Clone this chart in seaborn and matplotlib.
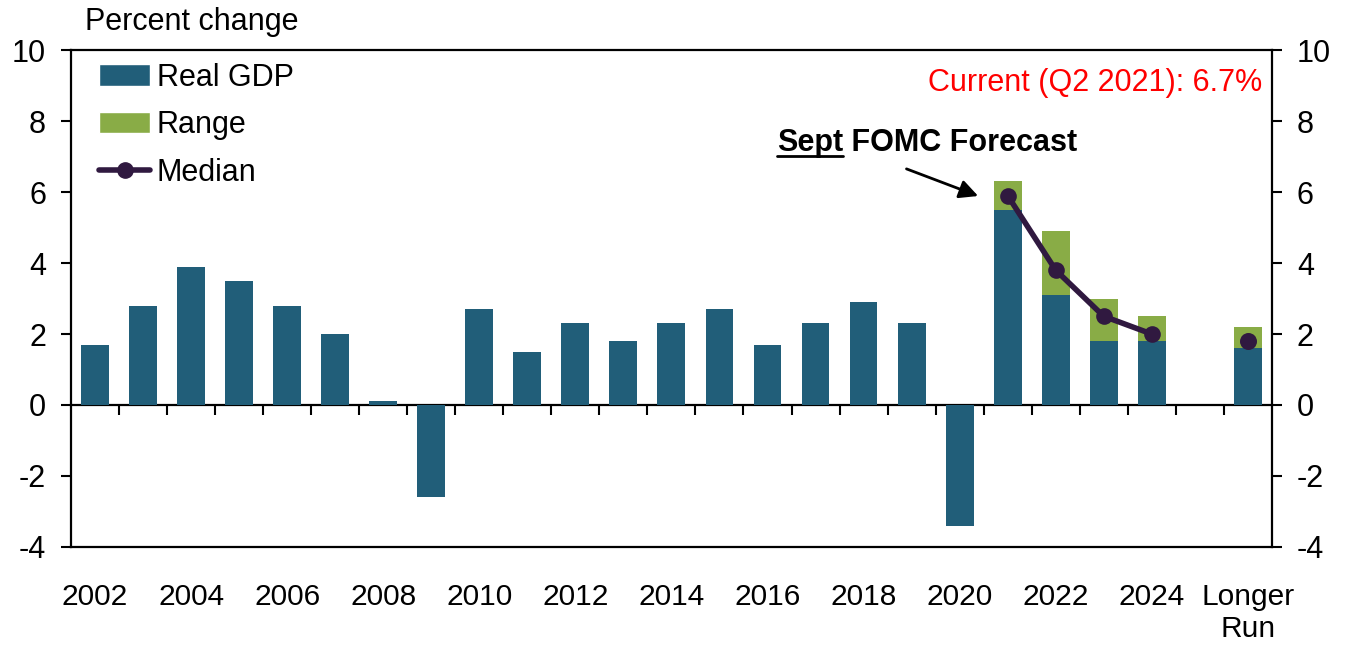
import numpy as np
import pandas as pd
import matplotlib
matplotlib.use("Agg")
import matplotlib.pyplot as plt
import seaborn as sns
from matplotlib.patches import Patch
from matplotlib.lines import Line2D

# categories: 2002-2025 (2025 slot left empty) + longer run
years = [str(y) for y in range(2002, 2026)] + ["Longer Run"]
real_gdp = [1.7, 2.8, 3.9, 3.5, 2.8, 2.0, 0.1, -2.6, 2.7, 1.5, 2.3, 1.8, 2.3,
            2.7, 1.7, 2.3, 2.9, 2.3, -3.4, 5.5, 3.1, 1.8, 1.8, np.nan, 1.6]
range_high = [np.nan] * 19 + [6.3, 4.9, 3.0, 2.5, np.nan, 2.2]
median = [np.nan] * 19 + [5.9, 3.8, 2.5, 2.0, np.nan, 1.8]
tick_labels = [y if int(y) % 2 == 0 else "" for y in years[:-1]] + ["Longer\nRun"]

BLUE = "#215E79"
GREEN = "#89AC46"
PURPLE = "#301940"

df = pd.DataFrame({"year": years, "gdp": real_gdp, "high": range_high, "median": median})
df["pos"] = np.arange(len(df))

sns.set_style("white")
plt.rcParams["font.family"] = ["Liberation Sans", "DejaVu Sans"]
plt.rcParams["axes.unicode_minus"] = False
plt.rcParams["text.color"] = "black"
plt.rcParams["xtick.color"] = "black"
plt.rcParams["ytick.color"] = "black"

fig = plt.figure(figsize=(13.53, 6.5), dpi=100)
ax = fig.add_axes([0.0525, 0.1585, 0.8875, 0.7645])

# range drawn first (full height), real GDP bars on top of it
sns.barplot(data=df, x="year", y="high", order=years, color=GREEN, width=0.58,
            saturation=1, linewidth=0, ax=ax)
sns.barplot(data=df, x="year", y="gdp", order=years, color=BLUE, width=0.58,
            saturation=1, linewidth=0, ax=ax)

line_df = df[df["median"].notna() & (df["year"] != "Longer Run")]
lr_df = df[df["year"] == "Longer Run"]
sns.lineplot(data=line_df, x="pos", y="median", color=PURPLE, lw=4,
             marker="o", markersize=12, markeredgewidth=0, ax=ax)
sns.scatterplot(data=lr_df, x="pos", y="median", color=PURPLE, s=150,
                linewidth=0, ax=ax, zorder=5)

ax.set_xlim(-0.5, len(years) - 0.5)
ax.set_ylim(-4, 10)
ax.set_yticks(range(-4, 11, 2))
ax.set_xticks(df["pos"])
ax.set_xticklabels(tick_labels)
ax.set_xlabel("")
ax.set_ylabel("")

for s in ax.spines.values():
    s.set_visible(True)
    s.set_linewidth(1.6)
    s.set_color("black")

ax.tick_params(axis="y", which="both", left=True, right=True, labelleft=True,
               labelright=True, direction="out", length=7, width=1.5,
               labelsize=22, pad=11)
ax.tick_params(axis="x", length=0, labelsize=21.5, pad=26)

# zero line with small ticks between categories
zero_ax = ax.secondary_xaxis(4 / 14)
zero_ax.set_xticks(df["pos"][:-1] + 0.5)
zero_ax.set_xticklabels([])
zero_ax.tick_params(direction="out", length=7, width=1.5, color="black")
for s in zero_ax.spines.values():
    s.set_linewidth(1.6)
    s.set_color("black")

handles = [Patch(facecolor=BLUE, label="Real GDP"),
           Patch(facecolor=GREEN, label="Range"),
           Line2D([], [], color=PURPLE, lw=4, marker="o", markersize=11,
                  label="Median")]
ax.legend(handles=handles, loc="upper left", bbox_to_anchor=(0.0, 1.03),
          frameon=False, fontsize=22, handlelength=1.7, handletextpad=0.2,
          labelspacing=0.58)

fig.text(0.0628, 0.966, "Percent change", fontsize=22, ha="left", va="center")

ax.text(0.9917, 0.934, "Current (Q2 2021): 6.7%", transform=ax.transAxes,
        color="red", fontsize=22, ha="right", va="center")

t1 = ax.text(14.2, 7.15, "Sept", fontsize=22, fontweight="bold", ha="left",
             va="baseline")
ax.annotate(" FOMC Forecast", xy=(1, 0), xycoords=t1, ha="left", va="bottom",
            fontsize=22, fontweight="bold")
ax.annotate("", xy=(18.44, 5.86), xytext=(16.84, 6.68),
            arrowprops=dict(arrowstyle="-|>", color="black", lw=2,
                            mutation_scale=28))

fig.canvas.draw()
bb = t1.get_window_extent()
inv = fig.transFigure.inverted()
(x0, y0), (x1, _) = inv.transform([[bb.x0, bb.y0 + 2], [bb.x1, bb.y0 + 2]])
fig.add_artist(Line2D([x0, x1], [y0, y0], color="black", lw=2))

fig.savefig("out.png", dpi=100)
